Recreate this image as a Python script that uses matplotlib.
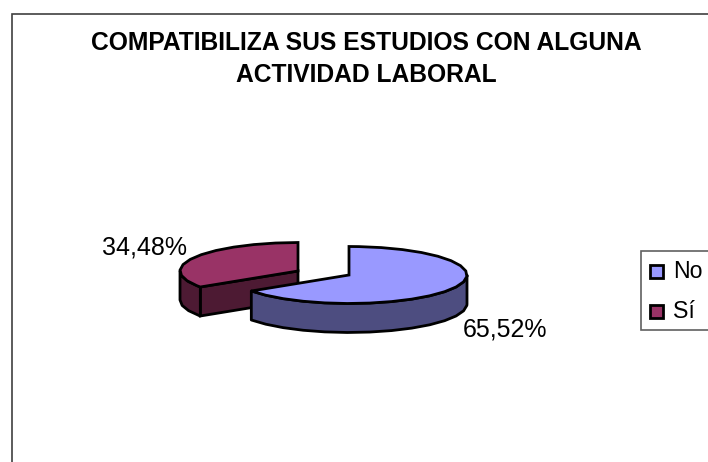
import numpy as np
import matplotlib
matplotlib.use('Agg')
import matplotlib.pyplot as plt
from matplotlib.patches import Polygon, Rectangle

categories = ['No', 'Sí']
values = [65.52, 34.48]
title_lines = ['COMPATIBILIZA SUS ESTUDIOS CON ALGUNA', 'ACTIVIDAD LABORAL']

plt.rcParams['font.family'] = ['Liberation Sans', 'DejaVu Sans']

RX, RY, DEPTH = 118, 28.5, 29
EDGE = 2.0


def arc(cx, cy, a0, a1, drop=0):
    # angles in degrees, counterclockwise, y axis of the picture points down
    t = np.radians(np.arange(a0, a1, 11).tolist() + [a1])
    return np.column_stack([cx + RX * np.cos(t), cy - RY * np.sin(t) + drop])


def wedge3d(cx, cy, a0, a1, top, side):
    # a0 to a1 counterclockwise, front walls first and top face last
    tip = a0 if a0 % 360 > 180 else a1
    t = np.radians(tip)
    px, py = cx + RX * np.cos(t), cy - RY * np.sin(t)
    # flat cut wall facing the viewer
    if a0 % 360 <= 180:
        ax.add_patch(Polygon([(cx, cy), (px, py), (px, py + DEPTH), (cx, cy + DEPTH)],
                             fc=side, ec='black', lw=EDGE))
    # outer wall, only the lower half of the ellipse shows
    for lo, hi in [(a0, a1), (a0 - 360, a1 - 360), (a0 + 360, a1 + 360)]:
        s, e = max(lo, 180), min(hi, 360)
        if s < e:
            up = arc(cx, cy, s, e)
            down = arc(cx, cy, s, e, DEPTH)[::-1]
            ax.add_patch(Polygon(np.vstack([up, down]), fc=side, ec='black', lw=EDGE, joinstyle='round'))
    ax.add_patch(Polygon(np.vstack([[cx, cy], arc(cx, cy, a0, a1)]), fc=top, ec='black', lw=EDGE))


fig = plt.figure(figsize=(7.08, 4.62), dpi=100)
ax = fig.add_axes([0, 0, 1, 1])
ax.set_xlim(0, 708)
ax.set_ylim(462, 0)
ax.axis('off')

# chart border
ax.plot([11.5, 11.5, 708], [462, 13.5, 13.5], color='#404040', lw=1.2, solid_joinstyle='miter')

for i, line in enumerate(title_lines):
    ax.text(366, 43.5 + i * 31.5, line, ha='center', va='center', fontsize=17.7, fontweight='bold', color='black')

# slices start at 12 o'clock and go clockwise
sweep = values[0] / sum(values) * 360
wedge3d(298, 271, 90, 90 + 360 - sweep, '#993366', '#4d1a33')
wedge3d(349, 275, 90 - sweep, 90, '#9999ff', '#4d4d80')

pct = ['%.2f%%' % v for v in values]
ax.text(505, 330, pct[0].replace('.', ','), ha='center', va='center', fontsize=18)
ax.text(144.5, 248, pct[1].replace('.', ','), ha='center', va='center', fontsize=18)

# legend
ax.add_patch(Rectangle((640.5, 250.5), 80, 79, fc='white', ec='#606060', lw=1.2, clip_on=True))
for y, name, col in zip([271, 311.5], categories, ['#9999ff', '#993366']):
    ax.add_patch(Rectangle((650, y - 6.5), 13, 13, fc=col, ec='black', lw=EDGE))
    ax.text(673, y, name, ha='left', va='center', fontsize=16.7)

fig.savefig('out.png', dpi=100)
